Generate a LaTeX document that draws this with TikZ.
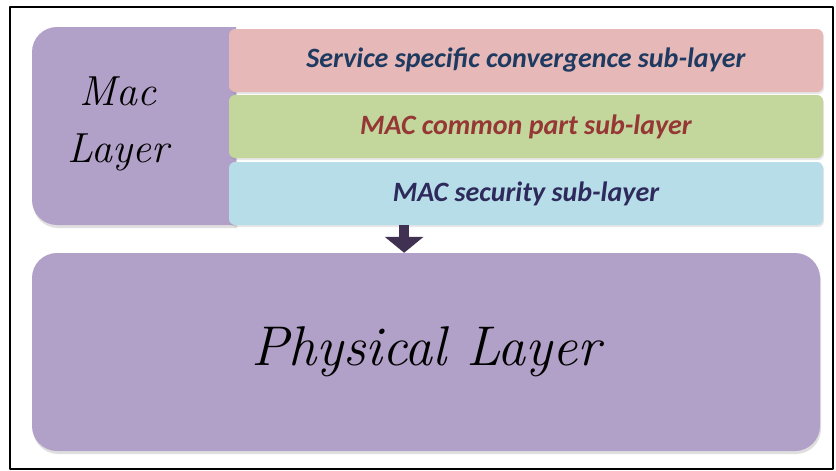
\documentclass[tikz,border=0pt]{standalone}
\usepackage{fontspec}
\newfontfamily\subfont{Carlito}
\usetikzlibrary{arrows.meta,positioning,calc,shadows}
\definecolor{macfill}{HTML}{B1A0C7}
\definecolor{ssfill}{HTML}{E6B9B8}
\definecolor{cpfill}{HTML}{C3D69B}
\definecolor{secfill}{HTML}{B7DEE8}
\definecolor{navytext}{HTML}{1F3A60}
\definecolor{redtext}{HTML}{953735}
\definecolor{purpletext}{HTML}{2E2B5C}
\definecolor{arrowdark}{HTML}{403152}

\begin{document}
\begin{tikzpicture}[x=1pt,y=-1pt,>=Latex,line join=round,
 layerbox/.style={fill=macfill,rounded corners=25pt,inner sep=0pt,
  drop shadow={opacity=.25,shadow xshift=1pt,shadow yshift=-3pt}},
 subbox/.style={rounded corners=6pt,minimum width=594pt,minimum height=63pt,inner sep=0pt,
  font=\subfont\bfseries\itshape\fontsize{28}{32}\selectfont,
  drop shadow={opacity=.2,shadow xshift=1pt,shadow yshift=-2pt}}]
\useasboundingbox (0,0) rectangle (836,471);
\draw[line width=1.2pt] (10,7) rectangle (833,469);
% MAC layer block, rounded on the left only, with its three sub-layers on top
\path[layerbox] (236,225) [sharp corners] -- (236,27) [rounded corners=25pt] -- (32,27) -- (32,225) [sharp corners] -- cycle;
\node[font=\itshape\fontsize{42}{57}\selectfont,align=center] (maclabel) at (118,124) {Mac\\Layer};
\node[subbox,fill=ssfill,text=navytext] (conv) at (526,60.5) {Service specific convergence sub-layer};
\node[subbox,fill=cpfill,text=redtext] (cps) at (526,126.5) {MAC common part sub-layer};
\node[subbox,fill=secfill,text=purpletext] (sec) at (526,193.5) {MAC security sub-layer};
% physical layer
\node[layerbox,minimum width=788pt,minimum height=198pt,
 font=\itshape\fontsize{56}{60}\selectfont] (phy) at (426,352) {Physical Layer};
% arrow down to the physical layer
\coordinate (arrtop) at ($(sec.south west)!0.295!(sec.south east)$);
\draw[arrowdark,line width=10pt,-{Triangle[width=38pt,length=16pt]}] (arrtop) -- (arrtop |- phy.north);
\end{tikzpicture}
\end{document}
